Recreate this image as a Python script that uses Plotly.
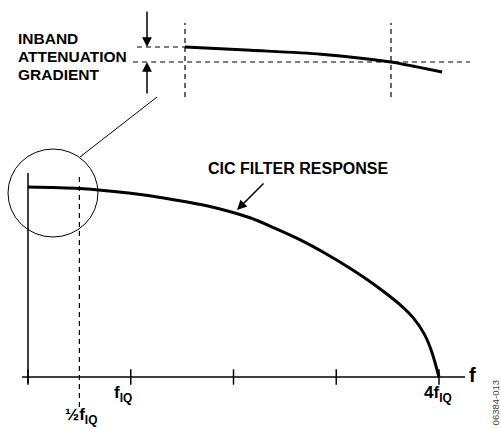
import plotly.graph_objects as go

# ---- data (frequency in units of fIQ, normalized magnitude) ----
f_main = [0, 0.5, 1.0, 1.35, 1.75, 2.16, 2.4, 2.65, 2.9, 3.13, 3.3, 3.46, 3.62, 3.75, 3.86, 3.93, 4.0]
resp_main = [1.0, 0.992, 0.967, 0.940, 0.900, 0.838, 0.784, 0.722, 0.649, 0.574, 0.513, 0.450,
             0.381, 0.311, 0.223, 0.132, 0.0]

# zoomed inset of the passband (same f units, magnified magnitude)
f_inset = [0, 0.16, 0.33, 0.5, 0.56, 0.624]
resp_inset = [1.0, 0.9978, 0.9952, 0.990, 0.9869, 0.9833]

tick_f = [0, 1, 2, 3, 4]
tick_labels = ["<b>f<sub>IQ</sub></b>", "<b>4f<sub>IQ</sub></b>"]
tick_label_f = [1, 4]
half_label = "<b>½f<sub>IQ</sub></b>"
inband_lines = ["INBAND", "ATTENUATION", "GRADIENT"]
curve_label = "CIC FILTER RESPONSE"
axis_label = "f"
fig_id = "06384-013"

FONT = "Liberation Sans, Arial, Helvetica, sans-serif"
BLACK = "#000000"
DASH = "5px,4px"

fig = go.Figure()

# main response curve
fig.add_trace(go.Scatter(x=f_main, y=resp_main, mode="lines",
                         line=dict(color=BLACK, width=3, shape="spline", smoothing=0.8),
                         hoverinfo="skip"))
# tick marks
fig.add_trace(go.Scatter(x=tick_f, y=[0] * len(tick_f), mode="markers",
                         marker=dict(symbol="line-ns-open", size=11, color=BLACK,
                                     line=dict(color=BLACK, width=1.5)),
                         hoverinfo="skip"))
# inset curve
fig.add_trace(go.Scatter(x=f_inset, y=resp_inset, mode="lines", xaxis="x2", yaxis="y2",
                         line=dict(color=BLACK, width=3, shape="spline", smoothing=0.8),
                         hoverinfo="skip"))

shapes = [
    # axes
    dict(type="line", xref="x", yref="y", x0=0, x1=0, y0=-0.032, y1=1.074,
         line=dict(color=BLACK, width=1.5)),
    dict(type="line", xref="x", yref="y", x0=-0.058, x1=4.253, y0=0, y1=0,
         line=dict(color=BLACK, width=1.5)),
    # half fIQ dashed marker
    dict(type="line", xref="x", yref="y", x0=0.5, x1=0.5, y0=-0.158, y1=1.074,
         line=dict(color=BLACK, width=1.2, dash=DASH)),
    # magnifier circle and leader
    dict(type="circle", xref="x", yref="y", x0=-0.1946, x1=0.681, y0=0.7368, y1=1.2,
         line=dict(color=BLACK, width=1)),
    dict(type="line", xref="x", yref="y", x0=0.506, y0=1.158, x1=1.2555, y1=1.4737,
         line=dict(color=BLACK, width=1)),
    # inset guides
    dict(type="line", xref="x2", yref="y2", x0=0, x1=0, y0=0.9667, y1=1.016,
         line=dict(color=BLACK, width=1.2, dash=DASH)),
    dict(type="line", xref="x2", yref="y2", x0=0.5, x1=0.5, y0=0.9667, y1=1.016,
         line=dict(color=BLACK, width=1.2, dash=DASH)),
    dict(type="line", xref="x2", yref="y2", x0=-0.1165, x1=0, y0=1.0, y1=1.0,
         line=dict(color=BLACK, width=1.2, dash=DASH)),
    dict(type="line", xref="x2", yref="y2", x0=-0.126, x1=0.692, y0=0.990, y1=0.990,
         line=dict(color=BLACK, width=1.2, dash=DASH)),
]

annotations = []
# tick labels
label_offsets = [-0.08, -0.01]
for lab, fx, off in zip(tick_labels, tick_label_f, label_offsets):
    annotations.append(dict(x=fx + off, y=-0.09, xref="x", yref="y", text=lab,
                            showarrow=False, font=dict(family=FONT, size=17, color=BLACK),
                            xanchor="center", yanchor="middle"))
annotations.append(dict(x=0.52, y=-0.205, xref="x", yref="y", text=half_label,
                        showarrow=False, font=dict(family=FONT, size=17, color=BLACK),
                        xanchor="center", yanchor="middle"))
annotations.append(dict(x=4.33, y=0.01, xref="x", yref="y", text="<b>" + axis_label + "</b>",
                        showarrow=False, font=dict(family=FONT, size=20, color=BLACK),
                        xanchor="center", yanchor="middle"))
# curve label and arrow
annotations.append(dict(x=2.628, y=1.1, xref="x", yref="y", text="<b>" + curve_label + "</b>",
                        showarrow=False, font=dict(family=FONT, size=16, color=BLACK),
                        xanchor="center", yanchor="middle"))
annotations.append(dict(x=2.034, y=0.879, ax=2.3066, ay=1.026, xref="x", yref="y",
                        axref="x", ayref="y", text="", showarrow=True,
                        arrowhead=2, arrowsize=1.3, arrowwidth=1.5, arrowcolor=BLACK))
# inband text
for i, t in enumerate(inband_lines):
    annotations.append(dict(x=-0.41, y=1.006 - i * 0.0123, xref="x2", yref="y2",
                            text="<b>" + t + "</b>", showarrow=False,
                            font=dict(family=FONT, size=15.5, color=BLACK),
                            xanchor="left", yanchor="middle"))
# inband arrows
annotations.append(dict(x=-0.0922, y=1.0, ax=-0.0922, ay=1.0247, xref="x2", yref="y2",
                        axref="x2", ayref="y2", text="", showarrow=True,
                        arrowhead=2, arrowsize=1.3, arrowwidth=1.5, arrowcolor=BLACK))
annotations.append(dict(x=-0.0922, y=0.990, ax=-0.0922, ay=0.968, xref="x2", yref="y2",
                        axref="x2", ayref="y2", text="", showarrow=True,
                        arrowhead=2, arrowsize=1.3, arrowwidth=1.5, arrowcolor=BLACK))
# figure id
annotations.append(dict(x=0.988, y=0.062, xref="paper", yref="paper", text=fig_id,
                        showarrow=False, textangle=-90,
                        font=dict(family=FONT, size=9.5, color="#444444"),
                        xanchor="center", yanchor="middle"))

fig.update_layout(
    width=501, height=429,
    margin=dict(l=0, r=0, t=0, b=0),
    paper_bgcolor="white", plot_bgcolor="white",
    showlegend=False,
    xaxis=dict(range=[-0.2725, 4.6034], visible=False, fixedrange=True),
    yaxis=dict(range=[-0.27368, 1.98421], visible=False, fixedrange=True),
    xaxis2=dict(range=[-0.44903, 0.76699], overlaying="x", anchor="y2", visible=False),
    yaxis2=dict(range=[0.745333, 1.031333], overlaying="y", anchor="x2", visible=False),
    shapes=shapes,
    annotations=annotations,
)

fig.write_html("out.html", config={"displayModeBar": False},
               post_script="document.body.style.margin='0px';document.body.style.overflow='hidden';")
